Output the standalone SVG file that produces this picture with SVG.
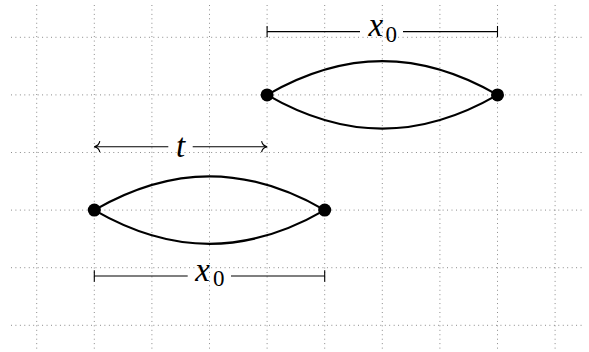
<svg xmlns="http://www.w3.org/2000/svg" width="589" height="352" viewBox="0 0 589 352">
<style>
.grid line{stroke:#707070;stroke-width:0.9;stroke-dasharray:0.9 3.55;fill:none}
.arc{fill:none;stroke:#000;stroke-width:2.2}
.dim{fill:none;stroke:#000;stroke-width:1.1}
.bar{stroke:#000;stroke-width:1.1}
.dot{fill:#000}
text{font-family:"Times New Roman","Liberation Serif",Times,"DejaVu Serif",serif;fill:#000}
.mi{font-style:italic;font-size:33px}
.sub{font-style:normal;font-size:23px}
</style>
<defs>
<marker id="tip" markerUnits="userSpaceOnUse" viewBox="-8 -8 16 16" markerWidth="16" markerHeight="16" refX="0" refY="0" orient="auto-start-reverse" overflow="visible">
<path d="M-5.5,-5.5 C-5,-2.2 -1.8,-0.4 0,0 C-1.8,0.4 -5,2.2 -5.5,5.5" fill="none" stroke="#000" stroke-width="1.1"/>
</marker>
</defs>
<rect width="589" height="352" fill="#fff"/>
<g class="grid">
<line x1="36.7" y1="5" x2="36.7" y2="350"/>
<line x1="94.3" y1="5" x2="94.3" y2="350"/>
<line x1="151.9" y1="5" x2="151.9" y2="350"/>
<line x1="209.5" y1="5" x2="209.5" y2="350"/>
<line x1="267.1" y1="5" x2="267.1" y2="350"/>
<line x1="324.7" y1="5" x2="324.7" y2="350"/>
<line x1="382.3" y1="5" x2="382.3" y2="350"/>
<line x1="439.9" y1="5" x2="439.9" y2="350"/>
<line x1="497.5" y1="5" x2="497.5" y2="350"/>
<line x1="555.1" y1="5" x2="555.1" y2="350"/>
<line x1="11" y1="37.3" x2="584" y2="37.3"/>
<line x1="11" y1="94.9" x2="584" y2="94.9"/>
<line x1="11" y1="152.5" x2="584" y2="152.5"/>
<line x1="11" y1="210.1" x2="584" y2="210.1"/>
<line x1="11" y1="267.7" x2="584" y2="267.7"/>
<line x1="11" y1="325.3" x2="584" y2="325.3"/>
</g>
<g id="connectors">
<path class="arc" d="M267.1,94.9 C345,49.9 419.6,49.9 497.5,94.9"/>
<path class="arc" d="M267.1,94.9 C345,139.9 419.6,139.9 497.5,94.9"/>
<path class="arc" d="M94.3,210.1 C172.2,165.1 246.8,165.1 324.7,210.1"/>
<path class="arc" d="M94.3,210.1 C172.2,255.1 246.8,255.1 324.7,210.1"/>
</g>
<g id="dim-top">
<line class="bar" x1="267.1" y1="26" x2="267.1" y2="37.3"/>
<line class="bar" x1="497.5" y1="26" x2="497.5" y2="37.3"/>
<line class="dim" x1="267.1" y1="31.6" x2="360" y2="31.6"/>
<line class="dim" x1="403" y1="31.6" x2="497.5" y2="31.6"/>
<text class="mi" x="368.5" y="36.2">x</text>
<text class="sub" x="385.5" y="41.7">0</text>
</g>
<g id="dim-t">
<line class="dim" x1="94.3" y1="146.7" x2="168.3" y2="146.7" marker-start="url(#tip)"/>
<line class="dim" x1="192.7" y1="146.7" x2="267.1" y2="146.7" marker-end="url(#tip)"/>
<text class="mi" x="180.5" y="156.5" text-anchor="middle">t</text>
</g>
<g id="dim-bottom">
<line class="bar" x1="94.3" y1="270.3" x2="94.3" y2="281.7"/>
<line class="bar" x1="324.7" y1="270.3" x2="324.7" y2="281.7"/>
<line class="dim" x1="94.3" y1="276" x2="187.7" y2="276"/>
<line class="dim" x1="231" y1="276" x2="324.7" y2="276"/>
<text class="mi" x="195.3" y="281.3">x</text>
<text class="sub" x="213" y="286">0</text>
</g>
<g id="n1"><circle class="dot" cx="267.1" cy="94.9" r="6.5"/></g>
<g id="n2"><circle class="dot" cx="497.5" cy="94.9" r="6.5"/></g>
<g id="n3"><circle class="dot" cx="94.3" cy="210.1" r="6.5"/></g>
<g id="n4"><circle class="dot" cx="324.7" cy="210.1" r="6.5"/></g>
</svg>
